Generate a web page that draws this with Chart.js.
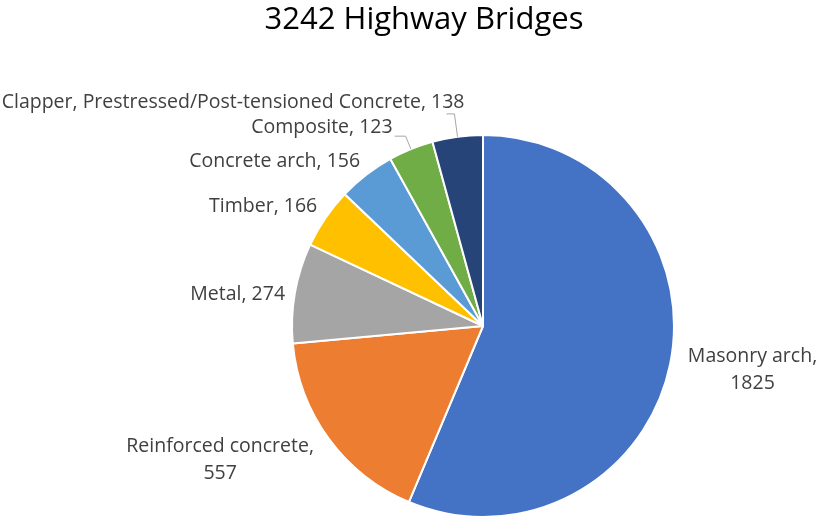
<!DOCTYPE html>
<html>
<head>
    <title>3242 Highway Bridges</title>
    <script src="https://cdn.jsdelivr.net/npm/chart.js@4.4.1/dist/chart.umd.min.js"></script>
    <style>
        body { margin: 0; background: #fff; }
        #wrap { width: 817px; height: 520px; }
    </style>
</head>

<body>
    <div id="wrap">
        <canvas id="pieChart" width="817" height="520"></canvas>
    </div>

    <script>
        var chartTitle = "3242 Highway Bridges";
        var categories = ["Masonry arch", "Reinforced concrete", "Metal", "Timber", "Concrete arch", "Composite", "Clapper, Prestressed/Post-tensioned Concrete"];
        var bridgeCounts = [1825, 557, 274, 166, 156, 123, 138];
        var sliceColors = ["#4472C4", "#ED7D31", "#A5A5A5", "#FFC000", "#5B9BD5", "#70AD47", "#264478"];

        // where each label sits relative to its slice edge (gap from rim, nudges, optional leader)
        var labelLayout = [
            {gap: 18, side: "left", wrap: true, dx: 0, dy: 3},
            {gap: 16, side: "right", wrap: true, dx: -2, dy: 12},
            {gap: 10, side: "right", dx: 0, dy: 3},
            {gap: 10, side: "right", dx: 0, dy: -6},
            {gap: 10, side: "right", dx: 0, dy: -5},
            {gap: 0, side: "right", elbow: 14, run: 11, dx: -2, dy: -9},
            {gap: 0, side: "right", elbow: 23, run: 8, dx: 18, dy: -11}
        ];

        var labelFont = "19.5px 'Open Sans'";
        var titleFont = "31px 'Open Sans'";

        //Slice labels and title

        const sliceLabels = {
            id: "sliceLabels",
            afterDraw(chart) {
                const ctx = chart.ctx;
                const arcs = chart.getDatasetMeta(0).data;

                ctx.save();
                ctx.fillStyle = "#000";
                ctx.font = titleFont;
                ctx.textAlign = "center";
                ctx.textBaseline = "alphabetic";
                ctx.fillText(chartTitle, 424, 29);

                ctx.font = labelFont;
                ctx.fillStyle = "#404040";
                ctx.textBaseline = "middle";

                arcs.forEach(function(arc, i) {
                    const p = arc.getProps(["x", "y", "startAngle", "endAngle", "outerRadius"], true);
                    const mid = (p.startAngle + p.endAngle) / 2;
                    const cos = Math.cos(mid), sin = Math.sin(mid);
                    const opt = labelLayout[i];
                    let ax, ay;

                    if (opt.elbow) {
                        // leader: out from the rim, then a short run sideways
                        const rx = p.x + cos * p.outerRadius;
                        const ry = p.y + sin * p.outerRadius;
                        const ex = p.x + cos * (p.outerRadius + opt.elbow);
                        const ey = p.y + sin * (p.outerRadius + opt.elbow);
                        const hx = ex - opt.run;
                        ctx.strokeStyle = "#A6A6A6";
                        ctx.lineWidth = 1;
                        ctx.beginPath();
                        ctx.moveTo(rx, ry);
                        ctx.lineTo(ex, ey);
                        ctx.lineTo(hx, ey);
                        ctx.stroke();
                        ax = hx + opt.dx;
                        ay = ey + opt.dy;
                    } else {
                        ax = p.x + cos * (p.outerRadius + opt.gap) + opt.dx;
                        ay = p.y + sin * (p.outerRadius + opt.gap) + opt.dy;
                    }

                    const value = bridgeCounts[i];
                    const lines = opt.wrap ? [categories[i] + ",", String(value)] : [categories[i] + ", " + value];
                    const blockW = Math.max.apply(null, lines.map(function(t) { return ctx.measureText(t).width; }));
                    const lineH = 27;
                    const cx = opt.side === "left" ? ax + blockW / 2 : ax - blockW / 2;
                    const top = ay - (lines.length - 1) * lineH / 2;

                    ctx.textAlign = "center";
                    lines.forEach(function(t, k) {
                        ctx.fillText(t, cx, top + k * lineH);
                    });
                });
                ctx.restore();
            }
        };

        new Chart("pieChart", {
            type: "pie",
            data: {
                labels: categories,
                datasets: [{
                    data: bridgeCounts,
                    backgroundColor: sliceColors,
                    borderColor: "#fff",
                    borderWidth: 2,
                    hoverOffset: 0
                }]
            },
            options: {
                responsive: false,
                animation: false,
                layout: {
                    padding: {left: 291, right: 142, top: 134, bottom: 2}
                },
                plugins: {
                    legend: {display: false},
                    title: {display: false},
                    tooltip: {enabled: false}
                }
            },
            plugins: [sliceLabels]
        });
    </script>
</body>
</html>
